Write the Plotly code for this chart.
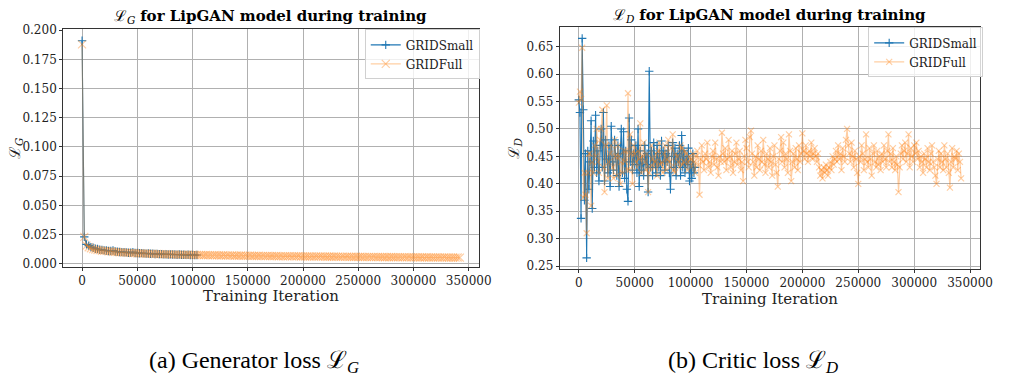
import plotly.graph_objects as go

# ---------------- data ----------------
g_small_x = list(range(0, 104001, 2000))
g_small = [0.191, 0.023, 0.0165, 0.0155, 0.0142, 0.0136, 0.0128, 0.0126, 0.0119, 0.0118,
           0.0114, 0.0113, 0.0109, 0.0108, 0.0113, 0.0104, 0.0103, 0.0100, 0.0099, 0.0098,
           0.0097, 0.0094, 0.0095, 0.0099, 0.0092, 0.0091, 0.0089, 0.0090, 0.0088, 0.0086,
           0.0087, 0.0085, 0.0086, 0.0083, 0.0084, 0.0082, 0.0082, 0.0080, 0.0081, 0.0079,
           0.0080, 0.0078, 0.0078, 0.0077, 0.0078, 0.0076, 0.0077, 0.0075, 0.0076, 0.0074,
           0.0075, 0.0073, 0.0074]

g_full_x = list(range(0, 342001, 2000))
g_full = [0.188, 0.023, 0.0155, 0.0141, 0.0132, 0.0124, 0.0121, 0.0117, 0.0116, 0.0111,
          0.0110, 0.0109, 0.0105, 0.0106, 0.0102, 0.0101, 0.0100, 0.0097, 0.0098, 0.0095,
          0.0095, 0.0093, 0.0093, 0.0090, 0.0091, 0.0088, 0.0089, 0.0087, 0.0088, 0.0085,
          0.0086, 0.0084, 0.0085, 0.0082, 0.0084, 0.0081, 0.0082, 0.0080, 0.0081, 0.0079,
          0.0080, 0.0078, 0.0079, 0.0077, 0.0078, 0.0076, 0.0077, 0.0075, 0.0077, 0.0074,
          0.0076, 0.0074, 0.0075, 0.0073, 0.0075, 0.0072, 0.0074, 0.0072, 0.0073, 0.0071,
          0.0073, 0.0071, 0.0072, 0.0070, 0.0072, 0.0069, 0.0071, 0.0069, 0.0071, 0.0068,
          0.0070, 0.0068, 0.0070, 0.0067, 0.0069, 0.0067, 0.0069, 0.0066, 0.0068, 0.0066,
          0.0068, 0.0065, 0.0067, 0.0065, 0.0067, 0.0064, 0.0066, 0.0064, 0.0066, 0.0063,
          0.0065, 0.0063, 0.0065, 0.0063, 0.0064, 0.0062, 0.0064, 0.0062, 0.0064, 0.0061,
          0.0063, 0.0061, 0.0063, 0.0061, 0.0062, 0.0060, 0.0062, 0.0060, 0.0062, 0.0060,
          0.0061, 0.0059, 0.0061, 0.0059, 0.0061, 0.0059, 0.0060, 0.0058, 0.0060, 0.0058,
          0.0060, 0.0058, 0.0059, 0.0057, 0.0059, 0.0057, 0.0059, 0.0057, 0.0058, 0.0056,
          0.0058, 0.0056, 0.0058, 0.0056, 0.0057, 0.0056, 0.0057, 0.0055, 0.0057, 0.0055,
          0.0057, 0.0055, 0.0056, 0.0055, 0.0056, 0.0054, 0.0056, 0.0054, 0.0056, 0.0054,
          0.0055, 0.0054, 0.0055, 0.0053, 0.0055, 0.0053, 0.0055, 0.0053, 0.0054, 0.0053,
          0.0054, 0.0053, 0.0054, 0.0052, 0.0054, 0.0052, 0.0053, 0.0052, 0.0053, 0.0052,
          0.0053, 0.0052]

d_small_x = list(range(0, 104001, 1000))
d_small = [0.553, 0.530, 0.337, 0.665, 0.535, 0.370, 0.455, 0.265, 0.460, 0.390,
           0.440, 0.515, 0.355, 0.478, 0.430, 0.525, 0.420, 0.460, 0.405, 0.470,
           0.500, 0.430, 0.530, 0.405, 0.480, 0.445, 0.420, 0.470, 0.395, 0.505,
           0.440, 0.425, 0.480, 0.450, 0.415, 0.470, 0.395, 0.455, 0.500, 0.420,
           0.495, 0.410, 0.460, 0.390, 0.368, 0.520, 0.440, 0.480, 0.425, 0.455,
           0.435, 0.470, 0.420, 0.500, 0.395, 0.460, 0.425, 0.445, 0.415, 0.470,
           0.435, 0.455, 0.385, 0.605, 0.430, 0.460, 0.415, 0.475, 0.440, 0.420,
           0.470, 0.430, 0.455, 0.415, 0.478, 0.440, 0.460, 0.425, 0.455, 0.440,
           0.470, 0.420, 0.390, 0.450, 0.475, 0.430, 0.465, 0.415, 0.455, 0.440,
           0.470, 0.415, 0.488, 0.430, 0.460, 0.420, 0.450, 0.435, 0.465, 0.405,
           0.440, 0.410, 0.455, 0.420, 0.430]

d_full_x = list(range(0, 342001, 1000))
d_full = [0.548, 0.568, 0.555, 0.648, 0.375, 0.420, 0.380, 0.310, 0.420, 0.455,
          0.455, 0.360, 0.440, 0.420, 0.470, 0.450, 0.500, 0.440, 0.420, 0.480,
          0.500, 0.535, 0.430, 0.385, 0.470, 0.543, 0.410, 0.440, 0.455, 0.470,
          0.430, 0.410, 0.480, 0.450, 0.415, 0.470, 0.450, 0.400, 0.440, 0.420,
          0.460, 0.440, 0.460, 0.425, 0.565, 0.425, 0.490, 0.455, 0.400, 0.470,
          0.455, 0.440, 0.430, 0.460, 0.445, 0.510, 0.420, 0.450, 0.475, 0.440,
          0.425, 0.455, 0.385, 0.420, 0.430, 0.470, 0.445, 0.430, 0.440, 0.455,
          0.415, 0.460, 0.475, 0.435, 0.440, 0.420, 0.455, 0.470, 0.425, 0.445,
          0.480, 0.440, 0.430, 0.465, 0.490, 0.425, 0.420, 0.455, 0.450, 0.440,
          0.430, 0.470, 0.465, 0.435, 0.440, 0.460, 0.455, 0.425, 0.440, 0.450,
          0.445, 0.430, 0.455, 0.440, 0.420, 0.450, 0.460, 0.435, 0.380, 0.445,
          0.470, 0.440, 0.425, 0.455, 0.445, 0.475, 0.430, 0.440, 0.420, 0.450,
          0.460, 0.435, 0.475, 0.445, 0.430, 0.415, 0.450, 0.440, 0.493, 0.455,
          0.440, 0.465, 0.425, 0.445, 0.480, 0.450, 0.430, 0.460, 0.420, 0.440,
          0.455, 0.475, 0.435, 0.445, 0.460, 0.425, 0.440, 0.405, 0.450, 0.480,
          0.465, 0.440, 0.430, 0.485, 0.497, 0.455, 0.440, 0.415, 0.450, 0.430,
          0.470, 0.445, 0.425, 0.460, 0.440, 0.480, 0.435, 0.420, 0.455, 0.445,
          0.430, 0.465, 0.440, 0.415, 0.450, 0.470, 0.435, 0.420, 0.395, 0.445,
          0.460, 0.485, 0.440, 0.475, 0.430, 0.455, 0.445, 0.420, 0.490, 0.460,
          0.405, 0.440, 0.455, 0.430, 0.465, 0.445, 0.425, 0.470, 0.440, 0.455,
          0.492, 0.460, 0.445, 0.470, 0.455, 0.440, 0.460, 0.450, 0.475, 0.445,
          0.455, 0.465, 0.450, 0.440, 0.455, 0.430, 0.415, 0.425, 0.410, 0.430,
          0.420, 0.435, 0.425, 0.415, 0.430, 0.440, 0.425, 0.450, 0.435, 0.445,
          0.460, 0.440, 0.470, 0.445, 0.455, 0.425, 0.465, 0.450, 0.440, 0.480,
          0.500, 0.470, 0.455, 0.440, 0.475, 0.450, 0.430, 0.460, 0.445, 0.420,
          0.400, 0.450, 0.440, 0.470, 0.455, 0.425, 0.445, 0.490, 0.440, 0.430,
          0.465, 0.445, 0.415, 0.455, 0.470, 0.440, 0.430, 0.460, 0.435, 0.450,
          0.425, 0.455, 0.440, 0.470, 0.445, 0.430, 0.460, 0.490, 0.440, 0.455,
          0.430, 0.465, 0.440, 0.425, 0.450, 0.435, 0.385, 0.430, 0.455, 0.470,
          0.445, 0.460, 0.475, 0.440, 0.455, 0.490, 0.430, 0.465, 0.450, 0.440,
          0.470, 0.455, 0.475, 0.445, 0.460, 0.430, 0.450, 0.440, 0.420, 0.455,
          0.445, 0.430, 0.465, 0.440, 0.425, 0.455, 0.470, 0.440, 0.430, 0.415,
          0.400, 0.445, 0.460, 0.430, 0.455, 0.440, 0.425, 0.470, 0.445, 0.430,
          0.455, 0.420, 0.393, 0.440, 0.465, 0.430, 0.450, 0.445, 0.460, 0.425,
          0.455, 0.440, 0.410]

x_ticks = [0, 50000, 100000, 150000, 200000, 250000, 300000, 350000]
g_ticks = [0.000, 0.025, 0.050, 0.075, 0.100, 0.125, 0.150, 0.175, 0.200]
d_ticks = [0.25, 0.30, 0.35, 0.40, 0.45, 0.50, 0.55, 0.60, 0.65]

# ---------------- style ----------------
W, H = 1010, 379
BLUE = "#1f77b4"
ORANGE = "rgba(255,127,14,0.38)"
SERIF = "DejaVu Serif, serif"
CAPFONT = "Liberation Serif, serif"


def px(x):
    return x / W


def py(y):
    return 1 - y / H


fig = go.Figure()


def add_pair(xs_s, ys_s, xs_f, ys_f, xa, ya, legend, osize):
    fig.add_trace(go.Scatter(
        x=xs_s, y=ys_s, mode="lines+markers", name="GRIDSmall",
        xaxis=xa, yaxis=ya, legend=legend,
        line=dict(color=BLUE, width=1.1),
        marker=dict(symbol="cross-thin", size=6, color=BLUE,
                    line=dict(color=BLUE, width=1.1)),
    ))
    fig.add_trace(go.Scatter(
        x=xs_f, y=ys_f, mode="lines+markers", name="GRIDFull",
        xaxis=xa, yaxis=ya, legend=legend,
        line=dict(color=ORANGE, width=1.2),
        marker=dict(symbol="x-thin", size=osize, color=ORANGE,
                    line=dict(color=ORANGE, width=1.2)),
    ))


add_pair(g_small_x, g_small, g_full_x, g_full, "x", "y", "legend", 8)
add_pair(d_small_x, d_small, d_full_x, d_full, "x2", "y2", "legend2", 6)

axis_common = dict(
    showgrid=True, gridcolor="#b0b0b0", gridwidth=1,
    showline=True, linecolor="#333333", linewidth=1, mirror=True,
    ticks="outside", ticklen=3, tickcolor="#333333", tickwidth=1,
    tickfont=dict(family=SERIF, size=12, color="#222"),
    zeroline=False,
)

legend_common = dict(
    xanchor="right", yanchor="top",
    bgcolor="rgba(255,255,255,0.8)", bordercolor="#d0d0d0", borderwidth=1,
    font=dict(family=SERIF, size=12, color="#222"),
    tracegroupgap=0, itemwidth=30,
)

fig.update_layout(
    width=W, height=H,
    margin=dict(l=0, r=0, t=0, b=0),
    paper_bgcolor="white", plot_bgcolor="white",
    xaxis=dict(domain=[px(64), px(485)], range=[-17100, 359100],
               tickvals=x_ticks, ticktext=[str(v) for v in x_ticks],
               anchor="y", **axis_common),
    yaxis=dict(domain=[py(268), py(24)], range=[-0.0028, 0.2008],
               tickvals=g_ticks, ticktext=[f"{v:.3f}" for v in g_ticks],
               anchor="x", **axis_common),
    xaxis2=dict(domain=[px(567), px(993)], range=[-17100, 359100],
                tickvals=x_ticks, ticktext=[str(v) for v in x_ticks],
                anchor="y2", **axis_common),
    yaxis2=dict(domain=[py(270), py(22)], range=[0.245, 0.685],
                tickvals=d_ticks, ticktext=[f"{v:.2f}" for v in d_ticks],
                anchor="x2", **axis_common),
    legend=dict(x=px(486), y=py(24), **legend_common),
    legend2=dict(x=px(996), y=py(22), **legend_common),
    showlegend=True,
)

ann = []


def text(x, y, s, size, family=SERIF, angle=0, color="#222"):
    ann.append(dict(x=px(x), y=py(y), xref="paper", yref="paper", showarrow=False,
                    xanchor="center", yanchor="middle", textangle=angle,
                    text=s, font=dict(family=family, size=size, color=color)))


# titles
text(274.5, 11, "ℒ<sub><i>G</i></sub> <b>for LipGAN model during training</b>", 15, color="black")
text(780, 10, "ℒ<sub><i>D</i></sub> <b>for LipGAN model during training</b>", 15, color="black")
# x labels
text(274.5, 298, "Training Iteration", 15)
text(780, 301, "Training Iteration", 15)
# y labels
text(15, 146, "ℒ<sub><i>G</i></sub>", 15, angle=-90)
text(521, 146, "ℒ<sub><i>D</i></sub>", 15, angle=-90)
# captions
text(257, 366, "(a) Generator loss ℒ<sub><i>G</i></sub>", 24, family=CAPFONT, color="black")
text(763, 366, "(b) Critic loss ℒ<sub><i>D</i></sub>", 24, family=CAPFONT, color="black")

fig.update_layout(annotations=ann)

fig.write_html("out.html")
